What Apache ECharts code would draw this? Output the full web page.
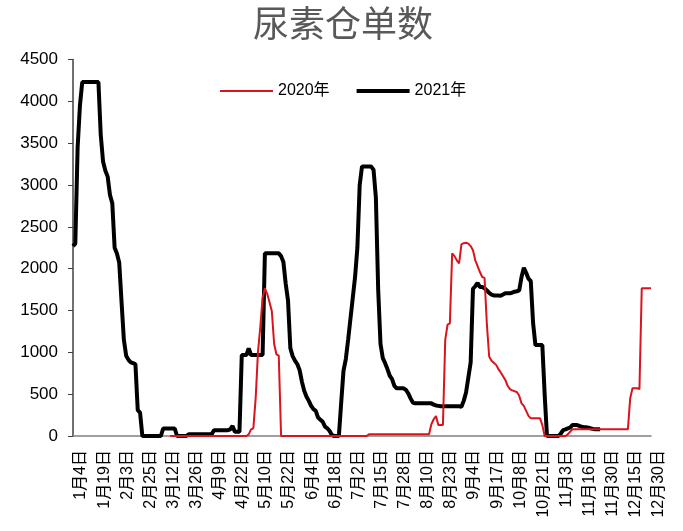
<!DOCTYPE html>
<html><head><meta charset="utf-8">
<script src="https://cdn.jsdelivr.net/npm/echarts@6/dist/echarts.min.js"></script>
<style>html,body{margin:0;padding:0;background:#fff}#c{width:683px;height:531px}</style>
</head><body><div id="c"></div>
<script>
// Tick labels shown on the x axis (every 10th category)
const tickLabels = ['1月4日','1月19日','2月3日','2月25日','3月12日','3月26日','4月9日','4月22日','5月10日','5月22日','6月4日','6月18日','7月2日','7月15日','7月28日','8月10日','8月23日','9月4日','9月17日','10月8日','10月21日','11月3日','11月16日','11月30日','12月15日','12月30日'];

// 2021年 warehouse receipts (black)
const series2021 = [
  2270,2300,3450,3950,4230,4230,4230,4230,4230,4230,
  4230,4230,3600,3280,3170,3100,2880,2780,2250,2180,
  2070,1600,1150,960,910,880,870,860,310,280,
  0,0,0,0,0,0,0,0,0,90,
  90,90,90,90,90,0,0,0,0,0,
  20,20,20,20,20,20,20,20,20,20,
  20,70,70,70,70,70,70,70,80,120,
  50,50,50,968,968,968,1048,968,968,968,
  968,968,968,2183,2183,2183,2183,2183,2183,2183,
  2150,2080,1820,1620,1050,955,900,860,790,650,
  540,470,420,360,320,300,220,195,170,111,
  92,60,10,0,0,0,400,780,920,1150,
  1400,1650,1900,2250,3000,3220,3220,3220,3220,3220,
  3180,2850,1750,1100,930,870,800,720,680,600,
  570,570,570,570,550,510,450,400,390,390,
  390,390,390,390,390,390,375,365,360,355,
  355,355,355,355,355,355,355,355,350,420,
  520,700,880,1760,1790,1830,1780,1780,1765,1740,
  1710,1690,1680,1680,1680,1675,1690,1705,1705,1705,
  1715,1725,1730,1740,1900,2010,1950,1880,1850,1350,
  1087,1087,1087,1087,500,0,0,0,0,0,
  0,30,70,80,92,100,131,131,131,120,
  111,105,104,100,90,85,82,80,80,null,
  null,null,null,null,null,null,null,null,null,null,
  null,null,null,null,null,null,null,null,null,null,
  null
];

// 2020年 warehouse receipts (red)
const series2020 = [
  null,null,null,null,null,null,null,null,null,null,
  null,null,null,null,null,null,null,null,null,null,
  null,null,null,null,null,null,null,null,null,null,
  null,null,null,null,null,null,null,null,null,null,
  null,null,0,0,0,0,0,0,0,0,
  0,0,0,0,0,0,0,0,0,0,
  0,0,0,0,0,0,0,0,0,0,
  0,0,0,0,0,0,20,80,92,450,
  1000,1300,1650,1765,1700,1600,1490,1100,975,960,
  0,0,0,0,0,0,0,0,0,0,
  0,0,0,0,0,0,0,0,0,0,
  0,0,0,0,0,0,0,0,0,0,
  0,0,0,0,0,0,0,0,20,20,
  20,20,20,20,20,20,20,20,20,20,
  20,20,20,20,20,20,20,20,20,20,
  20,20,20,20,20,140,200,239,131,131,
  131,1150,1330,1346,2183,2150,2100,2064,2290,2305,
  2310,2300,2270,2220,2100,2030,1960,1900,1890,1340,
  950,900,875,850,800,760,715,670,600,560,
  545,535,525,480,390,360,300,240,211,211,
  211,211,211,130,0,0,0,0,0,0,
  0,0,0,0,20,51,80,80,80,80,
  80,80,80,80,80,80,80,80,80,80,
  80,80,80,80,80,80,80,80,80,80,
  80,450,570,570,570,560,1765,1765,1765,1765,
  1765
];

// Build the category (date) list: tick labels plus the dates between them
function parseLabel(s){const m=s.match(/(\d+)月(\d+)日/);return new Date(2021,+m[1]-1,+m[2]);}
function fmt(d){return (d.getMonth()+1)+'月'+d.getDate()+'日';}
const STEP = 10;
const categories = [];
for (let j=0;j<tickLabels.length-1;j++){
  const a=parseLabel(tickLabels[j]), b=parseLabel(tickLabels[j+1]);
  const span=(b-a)/86400000;
  for (let m=0;m<STEP;m++){
    if (m===0){categories.push(tickLabels[j]);continue;}
    const d=new Date(a.getTime()+Math.round(m*span/STEP)*86400000);
    categories.push(fmt(d));
  }
}
categories.push(tickLabels[tickLabels.length-1]);

const FONT = "'Liberation Sans','Noto Sans CJK SC',sans-serif";
const chart = echarts.init(document.getElementById('c'), null, {renderer:'canvas'});
chart.setOption({
  animation:false,
  backgroundColor:'#fff',
  title:{text:'尿素仓单数',left:253,top:9,padding:0,
    textStyle:{fontSize:36,fontWeight:'normal',color:'#595959',fontFamily:FONT}},
  legend:{left:220,top:83,padding:0,itemWidth:53,itemHeight:14,itemGap:27,
    textStyle:{fontSize:16,color:'#000',fontFamily:FONT},
    data:[
      {name:'2020年',icon:'path://M0,0H53V2H0Z'},
      {name:'2021年',icon:'path://M0,0H53V4H0Z'}
    ]},
  grid:{left:73,right:32,top:59.5,bottom:95,containLabel:false},
  xAxis:{type:'category',data:categories,boundaryGap:false,
    axisLine:{lineStyle:{color:'#808080',width:1.5}},
    axisTick:{show:false},
    axisLabel:{interval:STEP-1,rotate:90,fontSize:16,color:'#000',margin:14,
      verticalAlign:'top',fontFamily:FONT},
    splitLine:{show:false}},
  yAxis:{type:'value',min:0,max:4500,interval:500,
    axisLine:{show:true,lineStyle:{color:'#404040',width:1.5}},
    axisTick:{show:true,inside:false,length:5,lineStyle:{color:'#404040'}},
    axisLabel:{fontSize:17,color:'#000',margin:15,fontFamily:FONT,
      formatter:function(v){return String(v);}},
    splitLine:{show:false}},
  series:[
    {name:'2020年',type:'line',data:series2020,symbol:'none',z:3,
      lineStyle:{color:'#d9141e',width:2},itemStyle:{color:'#d9141e'}},
    {name:'2021年',type:'line',data:series2021,symbol:'none',z:2,
      lineStyle:{color:'#000',width:4},itemStyle:{color:'#000'}}
  ]
});
</script></body></html>
